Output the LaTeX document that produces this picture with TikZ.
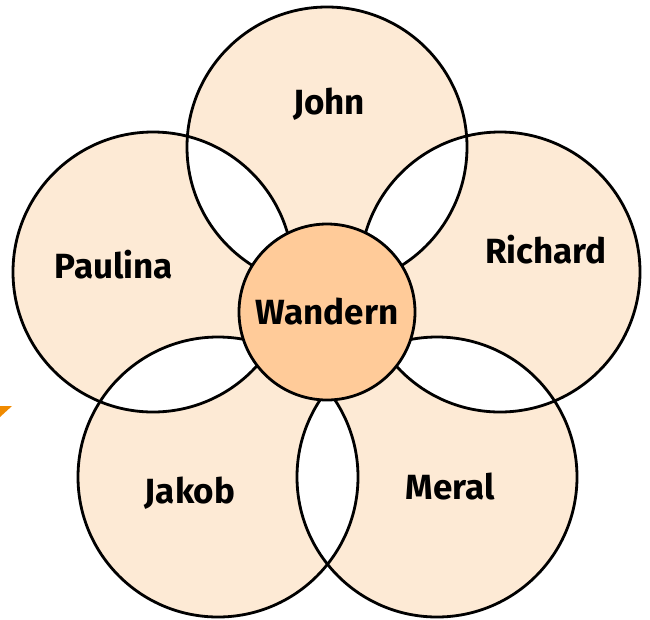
\documentclass[tikz,border=0pt]{standalone}
\usepackage{fontspec}
\setmainfont{Fira Sans}
\definecolor{petalfill}{HTML}{FDEAD5}
\definecolor{corefill}{HTML}{FFCB99}
\definecolor{arroworange}{HTML}{F08A00}
\begin{document}
\begin{tikzpicture}[x=1pt,y=-1pt,
  outline/.style={draw=black, line width=2.8pt},
  label/.style={font=\fontsize{35}{38}\selectfont\bfseries, inner sep=0pt},
  corecircle/.style={circle, minimum size=176pt, inner sep=0pt, fill=corefill, draw=black, line width=2.8pt, font=\fontsize{35}{38}\selectfont\bfseries}]
\useasboundingbox (0,0) rectangle (650,619);
\coordinate (cJohn) at (327,147);
\coordinate (cPaulina) at (153,272);
\coordinate (cRichard) at (500,272);
\coordinate (cJakob) at (218,477);
\coordinate (cMeral) at (437,477);
% petals
\foreach \c in {cJohn,cPaulina,cRichard,cJakob,cMeral}
  \fill[petalfill] (\c) circle[radius=140pt];
% white overlaps
\foreach \a/\b in {cJohn/cPaulina,cJohn/cRichard,cPaulina/cJakob,cJakob/cMeral,cMeral/cRichard}{
  \begin{scope}
    \clip (\a) circle[radius=140pt];
    \fill[white] (\b) circle[radius=140pt];
  \end{scope}
}
% outlines
\foreach \c in {cJohn,cPaulina,cRichard,cJakob,cMeral}
  \draw[outline] (\c) circle[radius=140pt];
% orange fragment
\fill[arroworange] (0,406) -- (12,406) -- (0,417) -- cycle;
% center
\node[corecircle] (core) at (327,312) {Wandern};
% labels
\node[label] (john) at (329,104) {John};
\node[label] (paulina) at (114,265) {Paulina};
\node[label] (richard) at (546,250) {Richard};
\node[label] (jakob) at (190,493) {Jakob};
\node[label] (meral) at (450,487) {Meral};
\end{tikzpicture}
\end{document}
